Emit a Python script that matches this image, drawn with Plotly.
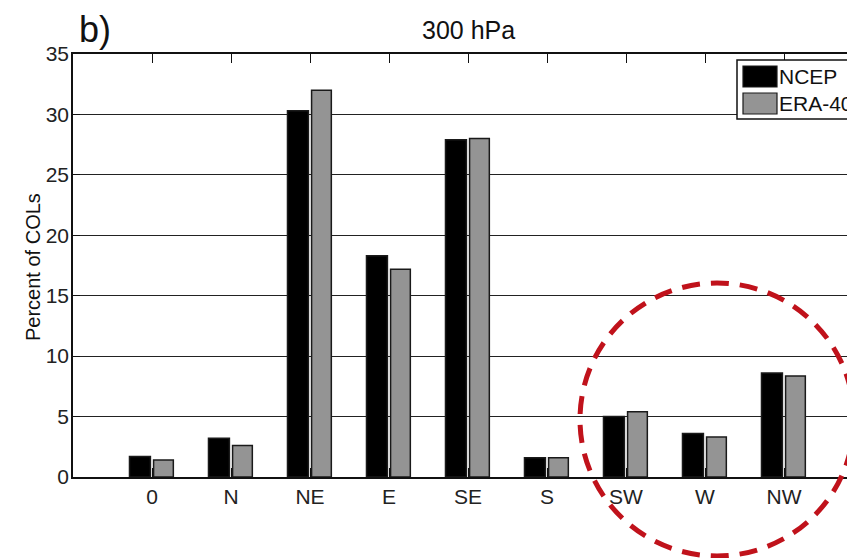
import plotly.graph_objects as go

categories = ["0", "N", "NE", "E", "SE", "S", "SW", "W", "NW"]
ncep = [1.7, 3.2, 30.3, 18.3, 27.9, 1.6, 5.0, 3.6, 8.6]
era40 = [1.4, 2.6, 32.0, 17.2, 28.0, 1.6, 5.4, 3.3, 8.35]
series_names = ["NCEP", "ERA-40"]
y_ticks = [0, 5, 10, 15, 20, 25, 30, 35]

W, H = 847, 558
L, T, B = 73, 54, 81
PW = W - L
PH = H - T - B
FONT = "Liberation Sans, Arial, Helvetica, sans-serif"

def px(x):
    return (x - L) / PW

def py(y):
    return (H - B - y) / PH

xpos = list(range(1, len(categories) + 1))

fig = go.Figure()
fig.add_trace(go.Bar(x=xpos, y=ncep, name=series_names[0], width=0.265, offset=-0.285,
                     marker=dict(color="#000000", line=dict(color="#1a1a1a", width=1.5)),
                     showlegend=False))
fig.add_trace(go.Bar(x=xpos, y=era40, name=series_names[1], width=0.25, offset=0.02,
                     marker=dict(color="#949494", line=dict(color="#1a1a1a", width=1.5)),
                     showlegend=False))

fig.update_layout(
    width=W, height=H,
    margin=dict(l=L, r=0, t=T, b=B, pad=0),
    paper_bgcolor="white", plot_bgcolor="white",
    font=dict(family=FONT, size=21, color="#111"),
    barmode="overlay",
    showlegend=False,
)
fig.update_xaxes(range=[0, PW / 79.0], tickvals=xpos, ticktext=categories,
                 showgrid=False, zeroline=False, showline=True, linecolor="#111", linewidth=1.5,
                 mirror="ticks", ticks="inside", ticklen=9, tickwidth=1.2, tickcolor="#111",
                 tickfont=dict(size=21, family=FONT, color="#222"))
fig.update_yaxes(range=[0, 35], tickvals=y_ticks, ticktext=[str(v) for v in y_ticks],
                 showgrid=True, gridcolor="#222", gridwidth=1.4, zeroline=False,
                 showline=True, linecolor="#111", linewidth=1.5, mirror=False,
                 ticks="inside", ticklen=7, tickwidth=1.2, tickcolor="#111",
                 tickfont=dict(size=21, family=FONT, color="#222"), ticklabelstandoff=-2)

# titles
fig.add_annotation(text="300 hPa", xref="paper", yref="paper", x=px(468), y=py(30),
                   xanchor="center", yanchor="middle", showarrow=False,
                   font=dict(size=25, family=FONT, color="#111"))
fig.add_annotation(text="b)", xref="paper", yref="paper", x=px(77), y=py(29),
                   xanchor="left", yanchor="middle", showarrow=False,
                   font=dict(size=36, family=FONT, color="#111"))
fig.add_annotation(text="Percent of COLs", xref="paper", yref="paper", x=px(33), y=py(267),
                   xanchor="center", yanchor="middle", textangle=-90, showarrow=False,
                   font=dict(size=20, family=FONT, color="#111"))

# manual legend (clipped by the page edge like the reference)
fig.add_shape(type="rect", xref="paper", yref="paper", x0=px(737), x1=px(900),
              y0=py(119), y1=py(60), line=dict(color="#111", width=1.5), fillcolor="white")
fig.add_shape(type="rect", xref="paper", yref="paper", x0=px(743), x1=px(777),
              y0=py(87), y1=py(66), line=dict(color="#1a1a1a", width=1.2), fillcolor="#000000")
fig.add_shape(type="rect", xref="paper", yref="paper", x0=px(743), x1=px(777),
              y0=py(114), y1=py(93), line=dict(color="#1a1a1a", width=1.2), fillcolor="#949494")
fig.add_annotation(text=series_names[0], xref="paper", yref="paper", x=px(777), y=py(77),
                   xanchor="left", yanchor="middle", showarrow=False,
                   font=dict(size=21, family=FONT, color="#111"))
fig.add_annotation(text=series_names[1], xref="paper", yref="paper", x=px(777), y=py(104),
                   xanchor="left", yanchor="middle", showarrow=False,
                   font=dict(size=21, family=FONT, color="#111"))

# red dashed circle annotation
fig.add_shape(type="circle", xref="paper", yref="paper",
              x0=px(580), x1=px(854), y0=py(556), y1=py(283),
              line=dict(color="#c0121b", width=5, dash="18px,11px"))

fig.write_html("out.html")
